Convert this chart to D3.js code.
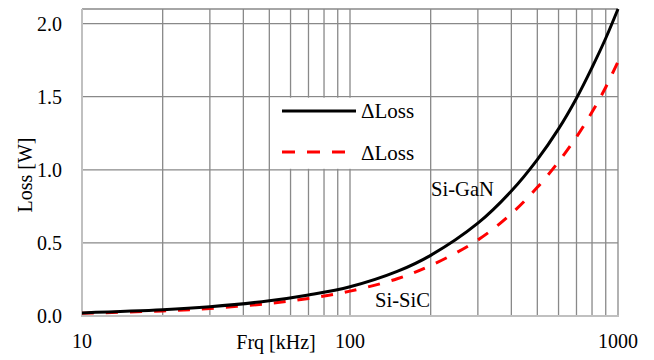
<!DOCTYPE html>
<html>
<head>
<meta charset="utf-8">
<script src="https://cdn.jsdelivr.net/npm/d3@7"></script>
<style>
  html, body { margin: 0; padding: 0; background: #fff; }
  svg { display: block; }
  svg text { font-family: "Liberation Serif", "DejaVu Serif", serif; }
</style>
</head>
<body>
<svg id="chart" width="654" height="360"></svg>
<script>
// Switching frequency (kHz) and loss difference (W)
const freqs   = [10, 20, 30, 50, 70, 100, 150, 200, 300, 400, 500, 600, 700, 800, 900, 1000];
const siGaN   = [0.021, 0.042, 0.063, 0.104, 0.144, 0.20, 0.305, 0.415, 0.635, 0.855, 1.07, 1.28, 1.49, 1.70, 1.90, 2.10];
const siSiC   = [0.018, 0.035, 0.052, 0.086, 0.12, 0.17, 0.255, 0.345, 0.52, 0.70, 0.88, 1.055, 1.225, 1.395, 1.565, 1.74];
const xTicks  = [10, 100, 1000];
const yTicks  = [0, 0.5, 1.0, 1.5, 2.0];
const legendLabels = ["\u0394Loss", "\u0394Loss"];

const svg = d3.select("#chart");
const plotLeft = 82, plotRight = 618, plotTop = 9, plotBottom = 316;

const x = d3.scaleLog().domain([10, 1000]).range([plotLeft, plotRight]);
const y = d3.scaleLinear().domain([0, 2.1]).range([plotBottom, plotTop]);

const gridColor = "#898989";
const fontSize = 20;
const serif = "Liberation Serif";

// vertical grid: every 1-9 step of each decade
const vGrid = [];
for (let d = 10; d < 1000; d *= 10) for (let k = 1; k <= 9; k++) vGrid.push(d * k);
vGrid.push(1000);
svg.append("g").selectAll("line").data(vGrid.filter(v => v > 10)).join("line")
  .attr("x1", d => x(d)).attr("x2", d => x(d))
  .attr("y1", plotTop).attr("y2", plotBottom)
  .attr("stroke", gridColor).attr("stroke-width", 1.3);

// horizontal grid
svg.append("g").selectAll("line").data(yTicks.filter(v => v > 0).concat([2.1])).join("line")
  .attr("x1", plotLeft).attr("x2", plotRight)
  .attr("y1", d => y(d)).attr("y2", d => y(d))
  .attr("stroke", gridColor).attr("stroke-width", 1.3);

// axis lines
svg.append("line").attr("x1", plotLeft).attr("x2", plotLeft).attr("y1", plotTop).attr("y2", plotBottom + 1)
  .attr("stroke", "#c0c0c0").attr("stroke-width", 2);
svg.append("line").attr("x1", plotLeft).attr("x2", plotRight + 1).attr("y1", plotBottom).attr("y2", plotBottom)
  .attr("stroke", "#c0c0c0").attr("stroke-width", 2);

// legend background
svg.append("rect").attr("x", 270).attr("y", y(1.5) + 1).attr("width", 160).attr("height", y(1.0) - y(1.5) - 2)
  .attr("fill", "#fff");

// tick labels
svg.append("g").selectAll("text").data(yTicks).join("text")
  .attr("x", 62).attr("y", d => y(d) + 7)
  .attr("text-anchor", "end").attr("font-family", serif).attr("font-size", fontSize).attr("fill", "#000")
  .text(d => d.toFixed(1));
svg.append("g").selectAll("text").data(xTicks).join("text")
  .attr("x", d => x(d)).attr("y", 348)
  .attr("text-anchor", "middle").attr("font-family", serif).attr("font-size", fontSize).attr("fill", "#000")
  .text(d => d);

// axis titles
svg.append("text").attr("x", 276).attr("y", 349).attr("text-anchor", "middle")
  .attr("font-family", serif).attr("font-size", fontSize).text("Frq [kHz]");
svg.append("text").attr("transform", "translate(32,175) rotate(-90)").attr("text-anchor", "middle")
  .attr("font-family", serif).attr("font-size", fontSize).text("Loss [W]");

// curves
const line = d3.line().x(d => x(d[0])).y(d => y(d[1])).curve(d3.curveCatmullRom.alpha(0.5));
svg.append("path").datum(freqs.map((f, i) => [f, siSiC[i]]))
  .attr("d", line).attr("fill", "none").attr("stroke", "#ff0000")
  .attr("stroke-width", 3).attr("stroke-dasharray", "12,12");
svg.append("path").datum(freqs.map((f, i) => [f, siGaN[i]]))
  .attr("d", line).attr("fill", "none").attr("stroke", "#000")
  .attr("stroke-width", 3);

// curve labels
svg.append("text").attr("x", 431).attr("y", 196).attr("font-family", serif).attr("font-size", 20.6).text("Si-GaN");
svg.append("text").attr("x", 375).attr("y", 307).attr("font-family", serif).attr("font-size", 20.6).text("Si-SiC");

// legend
const lg = svg.append("g");
lg.append("line").attr("x1", 282).attr("x2", 356).attr("y1", 111).attr("y2", 111)
  .attr("stroke", "#000").attr("stroke-width", 3);
lg.append("line").attr("x1", 282).attr("x2", 347).attr("y1", 152).attr("y2", 152)
  .attr("stroke", "#ff0000").attr("stroke-width", 3).attr("stroke-dasharray", "13,12");
lg.selectAll("text").data(legendLabels).join("text")
  .attr("x", 361).attr("y", (d, i) => i === 0 ? 118 : 160)
  .attr("font-family", serif).attr("font-size", 21).text(d => d);
</script>
</body>
</html>
